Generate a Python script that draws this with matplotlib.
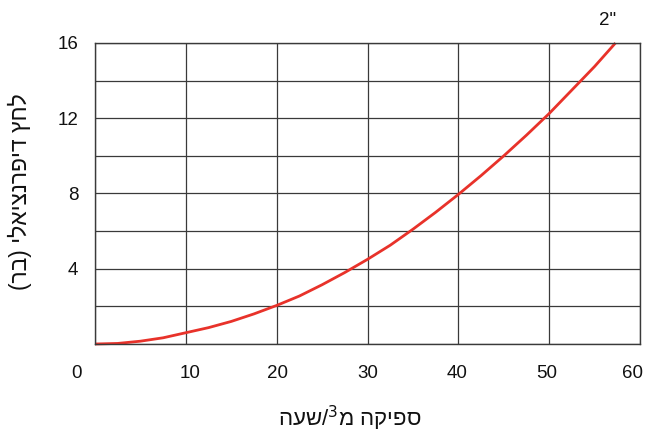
import matplotlib
matplotlib.use('Agg')
import matplotlib.pyplot as plt
import matplotlib.transforms as mtransforms

plt.rcParams['font.family'] = ['Liberation Sans', 'DejaVu Sans']

# flow (m3/h) vs differential pressure (bar)
flow = [0, 2.5, 5, 7.5, 10, 12.5, 15, 17.5, 20, 22.5, 25, 27.5, 30, 32.5,
        35, 37.5, 40, 42.5, 45, 47.5, 50, 52.5, 55, 57.3]
pressure = [0, 0.03, 0.15, 0.33, 0.6, 0.87, 1.2, 1.6, 2.05, 2.55, 3.15, 3.8,
            4.5, 5.25, 6.1, 7.0, 7.95, 8.95, 10.0, 11.1, 12.25, 13.5, 14.75, 16]
xticks = [0, 10, 20, 30, 40, 50, 60]
yticks = [4, 8, 12, 16]
curve_label = '2"'

# hebrew strings in visual (left-to-right) order
xlabel = 'העש/$^3$מ הקיפס'
ylabel = '(רב) ילאיצנרפיד ץחל'

fig = plt.figure(figsize=(6.65, 4.32), dpi=100)
ax = fig.add_axes([0.1429, 0.2037, 0.8195, 0.6968])

ax.set_xlim(0, 60)
ax.set_ylim(0, 16)
ax.set_xticks(xticks)
ax.set_xticks(range(0, 61, 10), minor=True)
ax.set_yticks(yticks)
ax.set_yticks(range(0, 17, 2), minor=True)
ax.set_yticklabels([str(v) for v in yticks])
ax.grid(True, which='both', color='#3a3a3a', lw=0.9)
ax.set_axisbelow(True)
for s in ax.spines.values():
    s.set_color('#3a3a3a')
    s.set_linewidth(1.0)
ax.tick_params(which='both', length=0, labelsize=13.5, colors='#111111')
ax.tick_params(axis='x', pad=15)
ax.tick_params(axis='y', pad=12)

# x tick labels sit a bit off their gridlines in the original
shifts = [-19, 4, 1, 0, -1, -2, -7]
for lbl, dx in zip(ax.get_xticklabels(), shifts):
    lbl.set_transform(lbl.get_transform() +
                      mtransforms.ScaledTranslation(dx / 100, 0, fig.dpi_scale_trans))

ax.plot(flow, pressure, color='#e8322a', lw=2.0, solid_capstyle='butt', clip_on=False)

ax.text(56.4, 17.2, curve_label, fontsize=13.5, ha='center', va='center', color='#111111')

fig.text(350 / 665, 1 - 418 / 432, xlabel, fontsize=16, ha='center', va='center', color='#111111')
fig.text(20 / 665, 1 - 192 / 432, ylabel, fontsize=16.5, rotation=90,
         ha='center', va='center', color='#111111')

fig.savefig('out.png', dpi=100)
